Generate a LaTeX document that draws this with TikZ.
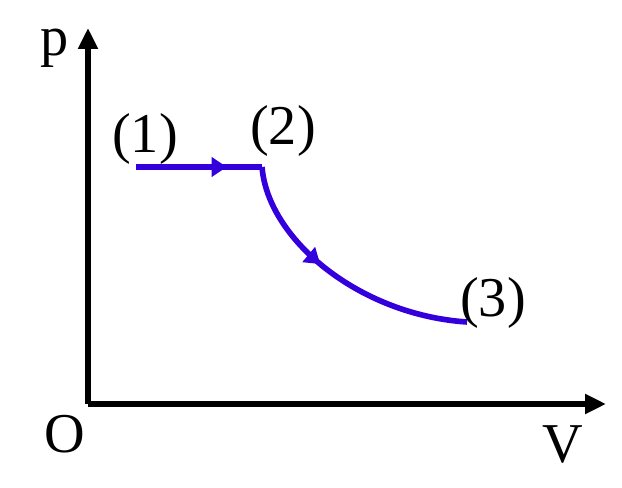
\documentclass[tikz,border=0pt]{standalone}
\usepackage{fontspec}
\setmainfont{Liberation Serif}
\usetikzlibrary{arrows.meta,decorations.markings}
\definecolor{pathblue}{RGB}{51,0,221}
\tikzset{
  ax/.style={line width=3.2pt, -{Triangle[length=0.42cm,width=0.38cm]}},
  pr/.style={line width=3.2pt, draw=pathblue},
  lbl/.style={anchor=base, inner sep=0pt, font=\fontsize{32}{36}\selectfont},
  mid/.style={postaction={decorate}, decoration={markings,
    mark=at position #1 with {\arrow{Triangle[length=0.3cm,width=0.38cm]}}}}
}

\begin{document}
\begin{tikzpicture}
\useasboundingbox (0,0) rectangle (12.44,9.76);
\coordinate (o) at (1.76,1.68);
\coordinate (ptip) at (1.76,9.2);
\coordinate (vtip) at (12.12,1.68);
\coordinate (s1) at (2.72,6.42);
\coordinate (s2) at (5.24,6.42);
\coordinate (s3) at (9.34,3.32);
% axes
\draw[ax] (o) -- (ptip);
\draw[ax] (o) -- (vtip);
\node[lbl] (pl) at (1.10,8.64) {p};
\node[lbl] (ol) at (1.30,0.70) {O};
\node[lbl] (vl) at (11.26,0.50) {V};
% process
\draw[pr, mid=0.72] (s1) -- (s2);
\draw[pr, mid=0.42] (s2) .. controls (5.36,4.96) and (7.20,3.46) .. (s3);
\node[lbl] (n1) at (2.90,6.70) {(1)};
\node[lbl] (n2) at (5.66,6.86) {(2)};
\node[lbl] (n3) at (9.86,3.42) {(3)};
\end{tikzpicture}
\end{document}
